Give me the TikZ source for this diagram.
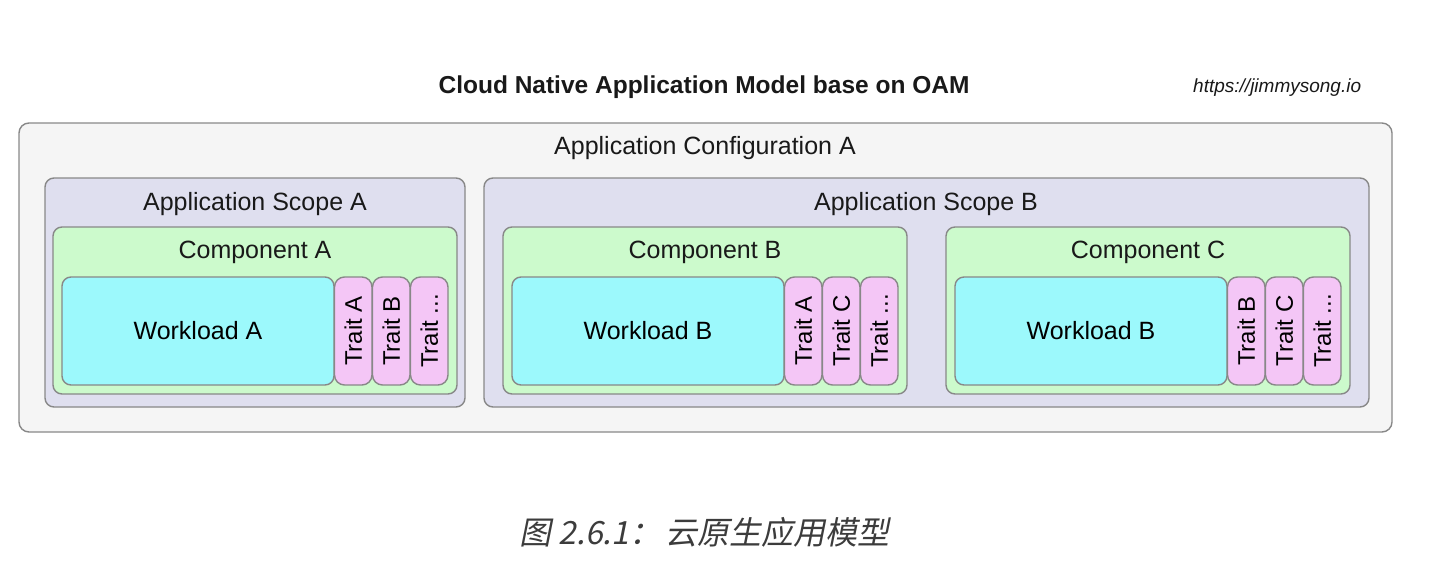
\documentclass[tikz,border=0pt]{standalone}
\usepackage{fontspec}
\setmainfont{Liberation Sans}
\newfontfamily\cjk[FakeSlant=0.2]{Noto Sans CJK SC}
\usetikzlibrary{positioning}
\definecolor{edgegray}{HTML}{888888}
\definecolor{cfgfill}{HTML}{F5F5F5}
\definecolor{scopefill}{HTML}{DFDFEF}
\definecolor{compfill}{HTML}{CCFACC}
\definecolor{workfill}{HTML}{9CF9FC}
\definecolor{traitfill}{HTML}{F4C6F6}
\definecolor{captiongray}{HTML}{3C3C3C}
\tikzset{
  box/.style={draw=edgegray, line width=1.4pt, inner sep=0pt, outer sep=0pt, anchor=north west},
  cfgbox/.style={box, fill=cfgfill, rounded corners=10pt},
  scopebox/.style={box, fill=scopefill, rounded corners=9pt},
  compbox/.style={box, fill=compfill, rounded corners=9pt, minimum width=404pt, minimum height=167pt},
  workbox/.style={box, fill=workfill, rounded corners=9pt, minimum width=272pt, minimum height=108pt, font=\fontsize{25}{29}\selectfont},
  traitbox/.style={box, fill=traitfill, rounded corners=10pt, minimum width=37.5pt, minimum height=108pt, font=\fontsize{24}{28}\selectfont},
  lbl/.style={anchor=base, font=\fontsize{25}{29}\selectfont, text=black!90, inner sep=0pt},
}
\begin{document}
\begin{tikzpicture}[x=1pt, y=-1pt]
\useasboundingbox (0,0) rectangle (1432,584);
% title and link
\node[lbl, font=\fontsize{24.5}{28}\selectfont\bfseries] (title) at (704,93.5) {Cloud Native Application Model base on OAM};
\node[lbl, anchor=base west, font=\fontsize{19}{22}\selectfont\itshape] (url) at (1193,92) {https://jimmysong.io};
% application configuration
\node[cfgbox, minimum width=1373pt, minimum height=309pt] (cfg) at (19,123) {};
\node[lbl] (cfglbl) at (705,154) {Application Configuration A};
% scopes
\node[scopebox, minimum width=420pt, minimum height=229pt] (scopeA) at (45,178) {};
\node[scopebox, minimum width=885pt, minimum height=229pt] (scopeB) at (484,178) {};
\node[lbl] (scopeAlbl) at (255,210) {Application Scope A};
\node[lbl] (scopeBlbl) at (926,210) {Application Scope B};
% components, workloads and traits
\foreach \cx/\cn/\wn/\ta/\tb [count=\i] in {53/A/A/A/B, 503/B/B/A/C, 946/C/B/B/C} {
  \node[compbox] (comp\i) at (\cx,227) {};
  \node[lbl] (comp\i lbl) at (\cx+202,258) {Component \cn};
  \node[workbox, anchor=center] (work\i) at (\cx+145,331) {Workload \wn};
  \node[traitbox, anchor=west, right=0.5pt of work\i] (tra\i) {\rotatebox{90}{Trait \ta}};
  \node[traitbox, anchor=west, right=0.5pt of tra\i] (trb\i) {\rotatebox{90}{Trait \tb}};
  \node[traitbox, anchor=west, right=0.5pt of trb\i] (trc\i) {\rotatebox{90}{Trait ...}};
}
% caption
\node[lbl, font=\fontsize{32}{36}\selectfont\cjk, text=captiongray] (caption) at (704.5,544) {图 2.6.1：\hspace{4pt}云原生应用模型};
\end{tikzpicture}
\end{document}
